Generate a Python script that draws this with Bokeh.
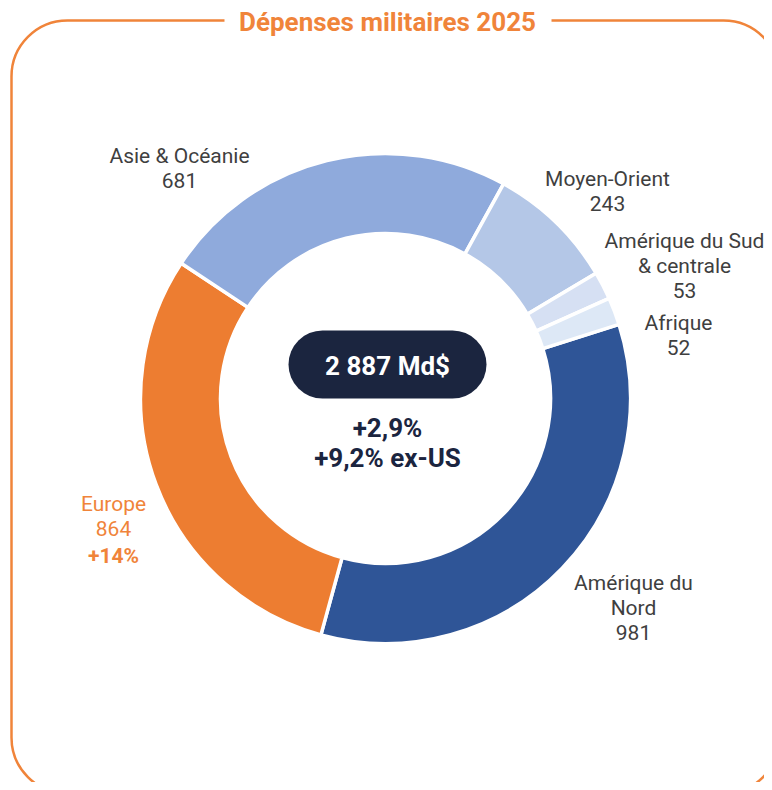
from bokeh.plotting import figure
from bokeh.models import Range1d, BoxAnnotation, Label
from bokeh.core.properties import value
from bokeh.embed import file_html
from bokeh.resources import INLINE
import numpy as np

# ---- data ----
regions = ["Amérique du Nord", "Europe", "Asie & Océanie", "Moyen-Orient",
           "Amérique du Sud & centrale", "Afrique"]
spend = [981, 864, 681, 243, 53, 52]
colors = ["#2F5597", "#ED7D31", "#8FAADC", "#B4C7E7", "#D6E0F3", "#DDE8F6"]
label_lines = [["Amérique du", "Nord", "981"],
               ["Europe", "864", "+14%"],
               ["Asie & Océanie", "681"],
               ["Moyen-Orient", "243"],
               ["Amérique du Sud", "& centrale", "53"],
               ["Afrique", "52"]]
title = "Dépenses militaires 2025"
total_text = "2 887 Md$"
growth_lines = ["+2,9%", "+9,2% ex-US"]

# ---- layout (screen pixels) ----
W, H = 764, 782
def sx(x):  # screen x -> data x
    return x
def sy(y):  # screen y -> data y
    return H - y

CX, CY = 385, 398
R_OUT, R_IN = 245, 165
START_DEG = 17.6
label_pos = [(633, 582), (113, 503), (179, 155), (607, 178), (684, 240), (678, 322)]
LINE_H = 25

ORANGE = "#F0843A"
NAVY = "#1B253F"
GRAY = "#3F3F3F"
FONT = "Roboto"

p = figure(width=W, height=H, output_backend="svg", toolbar_location=None,
           x_range=Range1d(0, W), y_range=Range1d(0, H),
           min_border=0, outline_line_color=None)
p.axis.visible = False
p.grid.visible = False
p.background_fill_color = "white"
p.border_fill_color = "white"

# frame
frame = BoxAnnotation(left=sx(11), right=sx(779), top=sy(20), bottom=sy(793),
                      fill_alpha=0, line_color=ORANGE, line_alpha=1, line_width=2.5,
                      border_radius=56, level="underlay")
p.add_layout(frame)
# title gap
p.quad(left=sx(224), right=sx(551), top=sy(4), bottom=sy(36),
       fill_color="white", line_color=None)
p.text(x=[sx(387)], y=[sy(21)], text=[title], text_font=value(FONT),
       text_font_style="bold", text_font_size="26px", text_color=ORANGE,
       text_align="center", text_baseline="middle")

# donut
vals = np.array(spend, dtype=float)
ang = vals / vals.sum() * 2 * np.pi
starts_cw = np.radians(START_DEG) - np.concatenate([[0], np.cumsum(ang)[:-1]])
ends_cw = starts_cw - ang
p.annular_wedge(x=sx(CX), y=sy(CY), inner_radius=R_IN, outer_radius=R_OUT,
                start_angle=list(ends_cw), end_angle=list(starts_cw),
                fill_color=colors, line_color="white", line_width=3.5)

# labels
for i, lines in enumerate(label_lines):
    lx, ly = label_pos[i]
    for j, t in enumerate(lines):
        is_eu = regions[i] == "Europe"
        bold = is_eu and j == 2
        p.text(x=[sx(lx)], y=[sy(ly + j * LINE_H + (2 if bold else 0))],
               text=[t], text_font=value(FONT),
               text_font_style="bold" if bold else "normal",
               text_font_size="21px", text_color=ORANGE if is_eu else GRAY,
               text_align="center", text_baseline="middle")

# center pill
pill = BoxAnnotation(left=sx(288), right=sx(486), top=sy(330), bottom=sy(398),
                     fill_color=NAVY, fill_alpha=1, line_color=None,
                     border_radius=34)
p.add_layout(pill)
p.add_layout(Label(x=sx(387), y=sy(365), text=total_text, text_font=FONT,
                   text_font_style="bold", text_font_size="26px",
                   text_color="white", text_align="center",
                   text_baseline="middle"))
for j, t in enumerate(growth_lines):
    p.text(x=[sx(387)], y=[sy(427 + j * 30)], text=[t], text_font=value(FONT),
           text_font_style="bold", text_font_size="26px", text_color=NAVY,
           text_align="center", text_baseline="middle")

open("out.html", "w").write(file_html(p, INLINE))
